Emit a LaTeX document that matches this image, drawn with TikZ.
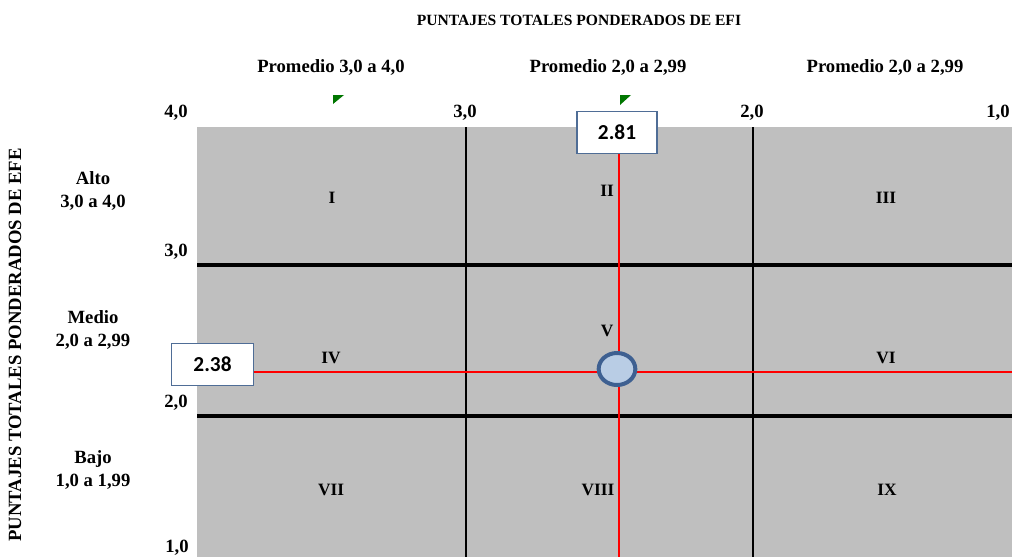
\documentclass[tikz,border=0pt]{standalone}
\usepackage{fontspec}
\setmainfont{Liberation Serif}
\newfontfamily\calfont{Carlito}
\usetikzlibrary{calc,shapes.geometric}
\definecolor{cellgray}{RGB}{191,191,191}
\definecolor{boxblue}{RGB}{79,109,150}
\definecolor{dotfill}{RGB}{185,205,229}
\definecolor{dotline}{RGB}{62,96,145}
\definecolor{markgreen}{RGB}{0,118,0}
\tikzset{
	lbl/.style={inner sep=0pt, font=\bfseries\fontsize{14}{17}\selectfont},
	ttl/.style={inner sep=0pt, font=\bfseries\fontsize{11.7}{13}\selectfont},
	roman/.style={inner sep=0pt, font=\bfseries\fontsize{13}{15}\selectfont},
	valbox/.style={draw=boxblue, line width=0.8pt, fill=white, inner sep=0pt,
		font=\calfont\bfseries\fontsize{16}{18}\selectfont},
	redline/.style={red, line width=1.5pt},
}

\begin{document}
\begin{tikzpicture}[x=0.75pt, y=-0.75pt]
		%%%%% START %%%%%
		\useasboundingbox (0, 0) rectangle (1012, 557);
		
		\fill[cellgray] (197, 127) rectangle (1012, 557);
		
		\draw[line width=1.5pt] (466, 127) -- (466, 557);
		\draw[line width=1.5pt] (753, 127) -- (753, 557);
		\draw[line width=3pt] (197, 265) -- (1012, 265);
		\draw[line width=3pt] (197, 416) -- (1012, 416);
		
		% titulos
		\node[ttl] (efi) at (579, 20) {PUNTAJES TOTALES PONDERADOS DE EFI};
		\node[ttl, rotate=90, font=\bfseries\fontsize{14}{16}\selectfont] (efe) at (15, 345) {PUNTAJES TOTALES PONDERADOS DE EFE};
		
		\node[lbl] (pa) at (331, 67) {Promedio 3,0 a 4,0};
		\node[lbl] (pb) at (608, 67) {Promedio 2,0 a 2,99};
		\node[lbl] (pc) at (885, 67) {Promedio 2,0 a 2,99};
		
		\node[lbl] (x4) at (176, 113) {4,0};
		\node[lbl] (x3) at (465, 113) {3,0};
		\node[lbl] (x2) at (752, 113) {2,0};
		\node[lbl] (x1) at (998, 113) {1,0};
		
		\node[lbl] (y3) at (176, 252) {3,0};
		\node[lbl] (y2) at (176, 403) {2,0};
		\node[lbl] (y1) at (177, 548) {1,0};
		
		\node[lbl, align=center] (alto) at (93, 191) {Alto\\3,0 a 4,0};
		\node[lbl, align=center] (medio) at (93, 330) {Medio\\2,0 a 2,99};
		\node[lbl, align=center] (bajo) at (93, 470) {Bajo\\1,0 a 1,99};
		
		% marcas verdes
		\fill[markgreen] (333, 95) -- (344, 95) -- (333, 104) -- cycle;
		\fill[markgreen] (620, 95) -- (631, 95) -- (620, 105) -- cycle;
		
		% cuadrantes
		\node[roman] (q1) at (332, 198) {I};
		\node[roman] (q2) at (607, 191) {II};
		\node[roman] (q3) at (886, 198) {III};
		\node[roman] (q4) at (331, 358) {IV};
		\node[roman] (q5) at (607, 331) {V};
		\node[roman] (q6) at (886, 358) {VI};
		\node[roman] (q7) at (331, 490) {VII};
		\node[roman] (q8) at (598, 490) {VIII};
		\node[roman] (q9) at (887, 490) {IX};
		
		% valores
		\node[valbox, minimum width=60pt, minimum height=32pt] (vx) at (617, 132.5) {2.81};
		\node[valbox, minimum width=61pt, minimum height=31pt] (vy) at (212.5, 364.5) {2.38};
		\coordinate (vxend) at (vx.south |- 0, 557);
		\coordinate (vyend) at (1012, 372);
		\draw[redline] ($(vx.south)+(2,0)$) -- ($(vxend)+(2,0)$);
		\draw[redline] (vy.east |- vyend) -- (vyend);
		
		\node[draw=dotline, line width=3pt, fill=dotfill, ellipse, minimum width=27.5pt, minimum height=24pt, inner sep=0pt] (pt) at (617, 369) {};
		
		%%%%% END %%%%%
	\end{tikzpicture}
\end{document}
